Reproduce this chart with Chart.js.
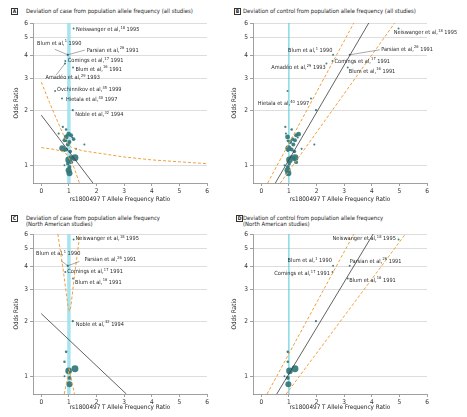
<!DOCTYPE html>
<html>
<head>
<meta charset="utf-8">
<script src="https://cdn.jsdelivr.net/npm/chart.js@4.4.1/dist/chart.umd.min.js"></script>
<style>
body { margin: 0; width: 467px; height: 417px; background: #fff; position: relative; overflow: hidden;
  font-family: 'Liberation Sans Narrow', 'DejaVu Sans Condensed', sans-serif; -webkit-font-smoothing: antialiased; }
canvas { position: absolute; }
.box { position: absolute; width: 5px; height: 5px; border: 0.7px solid #333; font-size: 5px; line-height: 5px;
  text-align: center; font-weight: bold; color: #222; }
.ttl { position: absolute; font-size: 5.9px; line-height: 6.8px; color: #1e1e1e; white-space: nowrap; }
</style>
</head>
<body>
<div class="box" style="left:11px;top:8px">A</div>
<div class="ttl" style="left:26px;top:7.5px">Deviation of case from population allele frequency (all studies)</div>
<div class="box" style="left:234px;top:8px">B</div>
<div class="ttl" style="left:243px;top:7.5px">Deviation of control from population allele frequency (all studies)</div>
<div class="box" style="left:11px;top:215px">C</div>
<div class="ttl" style="left:26px;top:214.5px">Deviation of case from population allele frequency<br>(North American studies)</div>
<div class="box" style="left:236px;top:215px">D</div>
<div class="ttl" style="left:243px;top:214.5px">Deviation of control from population allele frequency<br>(North American studies)</div>

<canvas id="chartA" width="233" height="205" style="left:0;top:0"></canvas>
<canvas id="chartB" width="251" height="205" style="left:216px;top:0"></canvas>
<canvas id="chartC" width="233" height="212" style="left:0;top:205px"></canvas>
<canvas id="chartD" width="251" height="212" style="left:216px;top:205px"></canvas>

<script>
'use strict'

const fam = "'Liberation Sans Narrow', 'DejaVu Sans Condensed', sans-serif";

// ticks shared by every panel
const xTicks = [0, 1, 2, 3, 4, 5, 6];
const yTicks = [1, 2, 3, 4, 5, 6];

// labelled studies are the first 9 entries
const studyAuthor = ['Neiswanger et al,', 'Blum et al,', 'Parsian et al,', 'Comings et al,', 'Blum et al,',
  'Amadéo et al,', 'Ovchinnikov et al,', 'Hietala et al,', 'Noble et al,'];
const studyRef = ['18', '1', '26', '17', '16', '29', '45', '40', '32'];
const studyYear = ['1995', '1990', '1991', '1991', '1991', '1993', '1999', '1997', '1994'];

// one entry per study
const oddsRatio = [5.6, 4.02, 4.02, 3.72, 3.43, 3.6, 2.55, 2.32, 2.0,
  1.36, 1.2, 1.10, 1.07, 0.98, 0.905, 1.0,
  1.57, 1.62, 1.49, 1.48, 1.46, 1.43, 1.42, 1.39, 1.37, 1.34, 1.30, 1.30, 1.24, 1.22, 1.23, 1.19, 1.09, 1.04, 1.02, 0.94, 1.11];
const caseRatio = [1.17, 0.96, 0.96, 0.87, 1.15, 0.86, 0.5, 0.75, 1.14,
  0.9, 0.84, 1.22, 0.99, 1.02, 1.02, 0.84,
  0.9, 0.78, 0.63, 0.99, 1.08, 0.9, 1.12, 1.17, 0.84, 1.02, 1.56, 0.96, 0.76, 0.9, 1.26, 1.05, 1.14, 1.08, 0.96, 0.99, 1.06];
const controlRatio = [4.97, 2.6, 3.2, 2.58, 3.13, 2.36, 0.95, 1.8, 1.98,
  0.96, 0.96, 1.22, 1.02, 0.96, 0.98, 0.84,
  1.1, 0.87, 0.89, 1.35, 1.26, 0.95, 1.32, 1.13, 1.22, 1.05, 1.92, 1.16, 0.98, 1.1, 1.46, 1.2, 1.2, 1.26, 1.01, 0.95, 1.08];
const studyWeight = [0.9, 0.9, 0.9, 0.9, 0.9, 0.9, 0.9, 0.9, 1.1,
  1.3, 1.3, 4.2, 4, 2.2, 3.6, 0.9,
  1.3, 1.1, 1, 2.8, 2.2, 2.8, 1, 2, 2.2, 2.2, 1, 2.2, 3.6, 2.2, 1, 2, 2, 2.2, 2, 3.6, 2];
const northAmerican = [1, 1, 1, 1, 1, 0, 0, 0, 1,
  1, 1, 1, 1, 1, 1, 1,
  0, 0, 0, 0, 0, 0, 0, 0, 0, 0, 0, 0, 0, 0, 0, 0, 0, 0, 0, 0, 0];

// meta-regression lines and confidence bounds, [ratio, odds ratio]
const fitA = [[0, 1.88], [1.87, 0.8]];
const upperA = [[0, 2.85], [0.3, 2.2], [0.6, 1.72], [0.8, 1.47], [0.95, 1.32], [1.1, 1.25], [1.5, 1.2], [2, 1.17], [3, 1.11], [4, 1.07], [5, 1.045], [6, 1.02]];
const lowerA = [[0, 1.25], [0.5, 1.22], [0.85, 1.18], [1.0, 1.1], [1.2, 0.96], [1.38, 0.8]];
const fitB = [[0.51, 0.8], [3.89, 6]];
const upperB = [[0.23, 0.8], [3.35, 6]];
const lowerB = [[0.69, 0.8], [4.83, 6]];
const fitC = [[0, 2.2], [3.08, 0.8]];
const upperC = [[0.6, 6], [0.8, 3.75], [0.97, 2.4], [1.02, 2.27], [1.07, 2.4], [1.22, 3.75], [1.4, 6]];
const lowerC = [[0.83, 0.8], [0.95, 0.98], [1.01, 1.1], [1.08, 0.98], [1.2, 0.8]];
const fitD = [[0.56, 0.8], [4.05, 6]];
const upperD = [[0.21, 0.8], [3.35, 6]];
const lowerD = [[0.9, 0.8], [5.22, 6]];

const teal = 'rgba(50,118,120,0.92)';
const orange = '#f0a03c';

// where each label sits relative to its dot (pixels)
const labelsA = [
  {s: 0, dx: 2.5, dy: 1}, {s: 1, dx: -30.7, dy: -11.4, lead: [-13, -5.5]}, {s: 2, dx: 19, dy: -4.7, lead: [17, -4.7]},
  {s: 3, dx: 2.5, dy: 0}, {s: 4, dx: 2.4, dy: 1.7}, {s: 5, dx: -19.6, dy: 14.3, lead: [-9, 11.6]},
  {s: 6, dx: 2, dy: -1.4}, {s: 7, dx: 4, dy: 1}, {s: 8, dx: 2.5, dy: 4.5}
];
const labelsB = [
  {s: 0, dx: -4.7, dy: 4.3}, {s: 1, dx: -1, dy: -4, right: true}, {s: 2, dx: 31.5, dy: -5.7, lead: [30, -5]},
  {s: 3, dx: 2, dy: 0.4}, {s: 4, dx: 1, dy: 4}, {s: 5, dx: -1, dy: 4, right: true}, {s: 7, dx: -2, dy: 5, right: true}
];
const labelsC = [
  {s: 0, dx: 2, dy: -1}, {s: 1, dx: -31.7, dy: -12, lead: [-6.7, -5]}, {s: 2, dx: 16.6, dy: -6, lead: [11.6, -4.3]},
  {s: 3, dx: 2, dy: 0}, {s: 4, dx: 2, dy: 4}, {s: 8, dx: 3, dy: 3}
];
const labelsD = [
  {s: 0, dx: -3, dy: -1, right: true}, {s: 1, dx: -1.5, dy: -5, right: true}, {s: 2, dx: 0, dy: -4.5},
  {s: 3, dx: -3, dy: 2, right: true}, {s: 4, dx: 1.5, dy: 2}
];

function drawLabel(ctx, x, y, s, right) {
  const tail = ' ' + studyYear[s];
  const big = '5.6px ' + fam, small = '4px ' + fam;
  ctx.font = big;
  const w1 = ctx.measureText(studyAuthor[s]).width;
  const w3 = ctx.measureText(tail).width;
  ctx.font = small;
  const w2 = ctx.measureText(studyRef[s]).width;
  let x0 = right ? x - (w1 + w2 + w3) : x;
  ctx.fillStyle = '#2a2a2a';
  ctx.textAlign = 'left';
  ctx.textBaseline = 'middle';
  ctx.font = big;
  ctx.fillText(studyAuthor[s], x0, y);
  ctx.font = small;
  ctx.fillText(studyRef[s], x0 + w1 + 0.3, y - 2);
  ctx.font = big;
  ctx.fillText(tail, x0 + w1 + w2 + 0.3, y);
}

function labelPlugin(xValues, labels) {
  return {
    id: 'studyLabels',
    afterDatasetsDraw(chart) {
      const ctx = chart.ctx;
      const xs = chart.scales.x, ys = chart.scales.y;
      ctx.save();
      labels.forEach(l => {
        const px = xs.getPixelForValue(xValues[l.s]);
        const py = ys.getPixelForValue(oddsRatio[l.s]);
        if (l.lead) {
          ctx.strokeStyle = '#555';
          ctx.lineWidth = 0.5;
          ctx.beginPath();
          ctx.moveTo(px + l.lead[0], py + l.lead[1]);
          ctx.lineTo(px, py);
          ctx.stroke();
        }
        drawLabel(ctx, px + l.dx, py + l.dy, l.s, l.right);
      });
      ctx.restore();
    }
  };
}

// vertical reference at ratio = 1
function refPlugin(width, color) {
  return {
    id: 'refLine',
    beforeDatasetsDraw(chart) {
      const ctx = chart.ctx;
      const a = chart.chartArea;
      const px = chart.scales.x.getPixelForValue(1);
      ctx.save();
      ctx.strokeStyle = color;
      ctx.lineWidth = width;
      ctx.beginPath();
      ctx.moveTo(px, a.top);
      ctx.lineTo(px, a.bottom);
      ctx.stroke();
      ctx.restore();
    }
  };
}

function toPts(arr) {
  return arr.map(p => ({x: p[0], y: p[1]}));
}

function makePanel(id, xValues, naOnly, fit, upper, lower, labels, geo) {
  let idx = [];
  for (let i = 0; i < oddsRatio.length; i++) {
    if (!naOnly || northAmerican[i]) idx.push(i);
  }
  const lineStyle = {showLine: true, pointRadius: 0, fill: false, tension: 0};
  new Chart(document.getElementById(id), {
    type: 'scatter',
    data: {
      datasets: [
        Object.assign({data: toPts(fit), borderColor: '#3a3a3a', borderWidth: 0.8}, lineStyle),
        Object.assign({data: toPts(upper), borderColor: orange, borderWidth: 1, borderDash: [3, 2]}, lineStyle),
        Object.assign({data: toPts(lower), borderColor: orange, borderWidth: 1, borderDash: [3, 2]}, lineStyle),
        {
          data: idx.map(i => ({x: xValues[i], y: oddsRatio[i]})),
          pointRadius: idx.map(i => 0.3 + 0.75 * studyWeight[i]),
          pointBackgroundColor: teal,
          pointBorderWidth: 0
        }
      ]
    },
    options: {
      responsive: false,
      animation: false,
      devicePixelRatio: 1,
      layout: {padding: {top: geo.top, right: geo.right, left: 0, bottom: 0}},
      plugins: {legend: {display: false}, tooltip: {enabled: false}},
      scales: {
        x: {
          type: 'linear', min: -0.3, max: 6,
          afterBuildTicks: s => { s.ticks = xTicks.map(v => ({value: v})); },
          afterFit: s => { s.height = geo.xH; },
          grid: {drawOnChartArea: false, drawTicks: true, tickLength: 3, tickColor: '#888', lineWidth: 0.8},
          border: {display: true, color: '#888', width: 0.8},
          ticks: {font: {size: 6.5, family: fam}, color: '#333', padding: 1, maxRotation: 0},
          title: {display: true, text: 'rs1800497 T Allele Frequency Ratio', font: {size: 6.3, family: fam},
            color: '#222', padding: {top: 0, bottom: geo.xTitlePad}}
        },
        y: {
          type: 'logarithmic', min: 0.8, max: 6,
          afterBuildTicks: s => { s.ticks = yTicks.map(v => ({value: v})); },
          afterFit: s => { s.width = geo.yW; },
          grid: {color: '#d4d4d4', lineWidth: 0.8, drawTicks: true, tickLength: 3, tickColor: '#888'},
          border: {display: true, color: '#888', width: 0.8},
          ticks: {font: {size: 6.5, family: fam}, color: '#333', padding: 2, callback: v => String(v)},
          title: {display: true, text: 'Odds Ratio', font: {size: 6.3, family: fam}, color: '#222',
            padding: {top: geo.yTitlePad, bottom: 0}}
        }
      }
    },
    plugins: [refPlugin(geo.bandW, geo.bandColor), labelPlugin(xValues, labels)]
  });
}

makePanel('chartA', caseRatio, false, fitA, upperA, lowerA, labelsA,
  {top: 23, right: 26, xH: 22, yW: 33, yTitlePad: 12.9, xTitlePad: 2.2, bandW: 3.5, bandColor: 'rgba(150,225,236,0.85)'});
makePanel('chartB', controlRatio, false, fitB, upperB, lowerB, labelsB,
  {top: 23, right: 40, xH: 22, yW: 37, yTitlePad: 14.9, xTitlePad: 2.2, bandW: 1, bandColor: '#4cc8da'});
makePanel('chartC', caseRatio, true, fitC, upperC, lowerC, labelsC,
  {top: 29, right: 26, xH: 23, yW: 33, yTitlePad: 12.9, xTitlePad: 5.9, bandW: 3.5, bandColor: 'rgba(150,225,236,0.85)'});
makePanel('chartD', controlRatio, true, fitD, upperD, lowerD, labelsD,
  {top: 29, right: 40, xH: 23, yW: 37, yTitlePad: 14.9, xTitlePad: 5.9, bandW: 1, bandColor: '#4cc8da'});
</script>
</body>
</html>
